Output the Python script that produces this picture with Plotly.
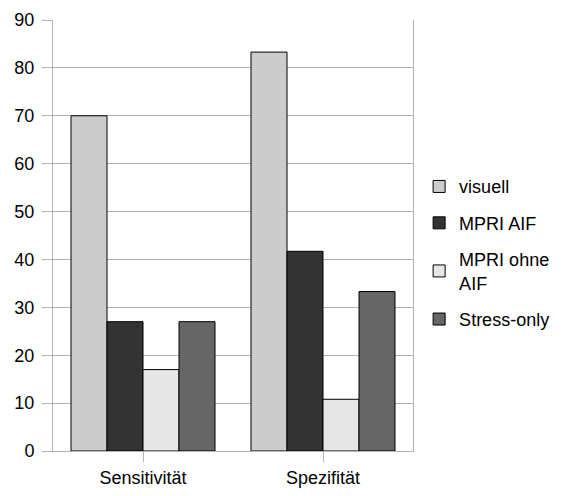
import plotly.graph_objects as go

categories = ["Sensitivität", "Spezifität"]
series_names = ["visuell", "MPRI AIF", "MPRI ohne<br>AIF", "Stress-only"]
visuell = [70, 83.3]
mpri_aif = [27, 41.7]
mpri_ohne_aif = [17, 10.8]
stress_only = [27, 33.3]
y_ticks = [0, 10, 20, 30, 40, 50, 60, 70, 80, 90]

colors = ["#cccccc", "#333333", "#e6e6e6", "#666666"]
values = [visuell, mpri_aif, mpri_ohne_aif, stress_only]

fig = go.Figure()
for i, (name, vals) in enumerate(zip(series_names, values)):
    fig.add_trace(go.Bar(
        x=categories, y=vals, name=name,
        marker=dict(color=colors[i], line=dict(color="#000000", width=1)),
        legendgroup=f"g{i}",
    ))

font = dict(family="Liberation Sans, Arial, sans-serif", size=18, color="#000000")
# page body has an 8px default margin, so the figure is sized to fit the window
fig.update_layout(
    width=565, height=488,
    margin=dict(l=45, r=160, t=12, b=45, autoexpand=False),
    barmode="group", bargap=0.2, bargroupgap=0,
    plot_bgcolor="#ffffff", paper_bgcolor="#ffffff",
    font=font,
    legend=dict(x=1.017, y=0.46, xanchor="left", yanchor="middle",
                traceorder="grouped", tracegroupgap=10,
                font=font, itemwidth=30),
    showlegend=True,
)
fig.update_yaxes(range=[0, 90], tickvals=y_ticks, showgrid=True, gridcolor="#b3b3b3",
                 showline=True, linecolor="#b3b3b3", mirror=True,
                 ticks="outside", ticklen=10, tickcolor="#b3b3b3", zeroline=False,
                 tickfont=font, automargin=False, ticklabelstandoff=4)
fig.update_xaxes(showline=True, linecolor="#b3b3b3", ticks="outside", ticklen=10,
                 tickcolor="#b3b3b3", tickfont=font, automargin=False)

fig.write_html("out.html")
